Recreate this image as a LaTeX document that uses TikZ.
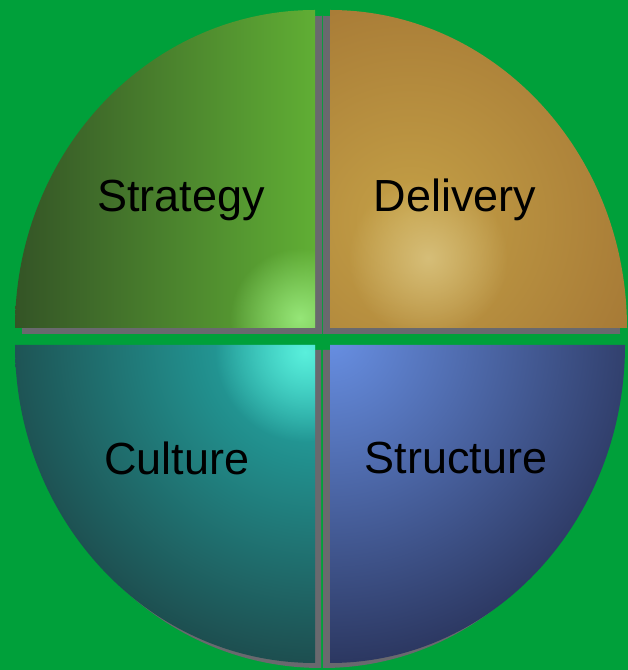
\documentclass[tikz,border=0pt]{standalone}
\usepackage{fontspec}
\setmainfont{Liberation Sans}
\usetikzlibrary{fadings}

\definecolor{bggreen}{RGB}{0,160,58}
\definecolor{shadowgrey}{RGB}{105,105,110}
\definecolor{stratdark}{RGB}{52,84,38}
\definecolor{stratlight}{RGB}{96,174,52}
\definecolor{stratglow}{RGB}{150,230,120}
\definecolor{delivin}{RGB}{196,160,70}
\definecolor{delivout}{RGB}{150,100,45}
\definecolor{delivglow}{RGB}{214,190,120}
\definecolor{cultin}{RGB}{36,182,178}
\definecolor{cultout}{RGB}{28,60,62}
\definecolor{cultglow}{RGB}{90,240,220}
\definecolor{structin}{RGB}{104,144,228}
\definecolor{structout}{RGB}{36,44,80}

\tikzfading[name=glow, inner color=transparent!0, outer color=transparent!100]

\begin{document}
\begin{tikzpicture}[x=1pt,y=1pt,
	quadlabel/.style={font=\fontsize{45}{50}\selectfont, text=black, anchor=base}]
	\fill[bggreen] (0,0) rectangle (628,670);
	\useasboundingbox (0,0) rectangle (628,670);
	% shadows
	\fill[shadowgrey] (322,336) -- (22,336) arc[start angle=180,end angle=90,x radius=300,y radius=318] -- cycle;
	\fill[shadowgrey] (323,654) arc[start angle=90,end angle=0,x radius=297,y radius=318] -- (323,336) -- cycle;
	\fill[shadowgrey] (321,320) -- (21,320) arc[start angle=180,end angle=270,x radius=300,y radius=318] -- cycle;
	\fill[shadowgrey] (323,320) -- (323,2) arc[start angle=270,end angle=360,x radius=295,y radius=318] -- cycle;
	% strategy
	\begin{scope}
		\clip (315,342) -- (15,342) arc[start angle=180,end angle=90,x radius=300,y radius=318] -- cycle;
		\shade[left color=stratdark, right color=stratlight] (15,342) rectangle (315,660);
		\fill[stratglow, path fading=glow] (300,352) circle (70);
	\end{scope}
	% delivery
	\begin{scope}
		\clip (330,342) -- (330,660) arc[start angle=90,end angle=0,x radius=297,y radius=318] -- cycle;
		\shade[inner color=delivin, outer color=delivout] (410,450) circle (380);
		\fill[delivglow, path fading=glow] (428,412) circle (80);
	\end{scope}
	% culture
	\begin{scope}
		\clip (315,325) -- (15,325) arc[start angle=180,end angle=270,x radius=300,y radius=318] -- cycle;
		\shade[inner color=cultin, outer color=cultout] (320,330) circle (380);
		\fill[cultglow, path fading=glow] (305,318) circle (90);
	\end{scope}
	% structure
	\begin{scope}
		\clip (330,325) -- (330,7) arc[start angle=270,end angle=360,x radius=295,y radius=318] -- cycle;
		\shade[inner color=structin, outer color=structout] (330,335) circle (370);
	\end{scope}
	% labels
	\node[quadlabel] (strategy) at (181,458) {Strategy};
	\node[quadlabel] (delivery) at (455,458) {Delivery};
	\node[quadlabel] (culture) at (177,195) {Culture};
	\node[quadlabel] (structure) at (456,196) {Structure};
\end{tikzpicture}
\end{document}
